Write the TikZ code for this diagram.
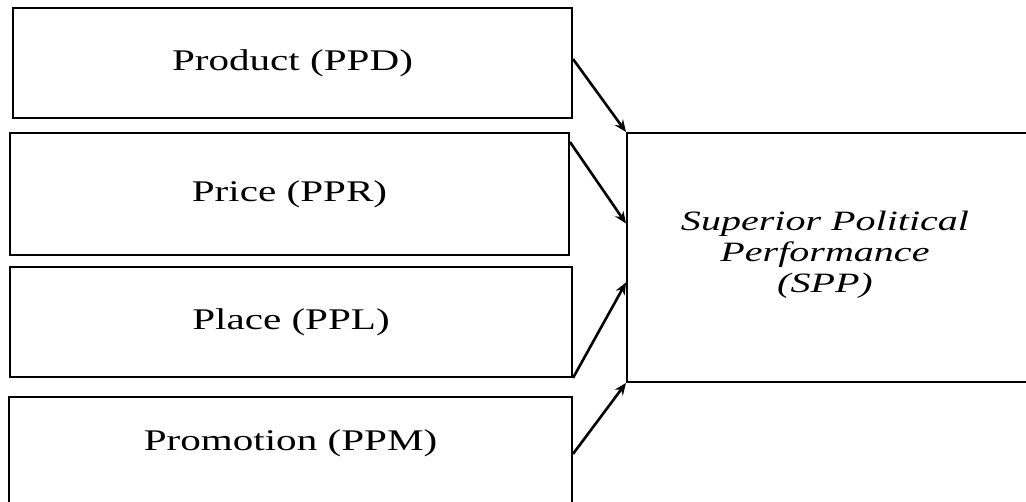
\documentclass[tikz,border=0pt]{standalone}
\usepackage{fontspec}
\setmainfont{Liberation Serif}
\usetikzlibrary{arrows.meta,calc}

\newcommand{\widetext}[2][1.37]{\scalebox{#1}[1]{#2}}

\tikzset{
  factor/.style={draw, line width=2pt, inner sep=0pt,
                 minimum width=559pt, minimum height=110pt,
                 font=\fontsize{30}{32}\selectfont},
  outcome/.style={draw, line width=2pt, inner sep=0pt,
                  minimum width=403pt, minimum height=249pt,
                  font=\fontsize{28}{31}\selectfont\itshape},
  link/.style={-{Stealth[length=12pt,width=10pt]}, line width=2.6pt}
}

\begin{document}
\begin{tikzpicture}[x=1pt,y=-1pt]
  \clip (0,0) rectangle (1026,502);
  \fill[white] (0,0) rectangle (1026,502);

  % factors
  \node[factor] (ppd) at (292.5,63) {\widetext{Product (PPD)}};
  \node[factor, minimum height=122pt] (ppr) at (289.5,194) {\widetext{Price (PPR)}};
  \node[factor, minimum width=562pt] (ppl) at (291,322) {\widetext{Place (PPL)}};
  \node[factor, minimum width=563pt, minimum height=120pt] (ppm) at (290.5,457) {};
  \node[font=\fontsize{30}{32}\selectfont] (ppmtext) at (290.5,443) {\widetext{Promotion (PPM)}};

  % outcome
  \node[outcome] (spp) at (828.5,257.5) {};
  \node[font=\fontsize{28}{31}\selectfont\itshape, align=center] (spptext) at (825,255)
    {\widetext[1.43]{Superior Political}\\ \widetext[1.43]{Performance}\\ \widetext[1.43]{(SPP)}};

  % links
  \draw[link] ([yshift=4pt]ppd.east) -- (spp.north west);
  \draw[link] ([yshift=-10pt]ppr.north east) -- ([yshift=34pt]spp.west);
  \draw[link] (ppl.south east) -- ([yshift=-25pt]spp.west);
  \draw[link] ([yshift=-58pt]ppm.north east) -- (spp.south west);
\end{tikzpicture}
\end{document}
